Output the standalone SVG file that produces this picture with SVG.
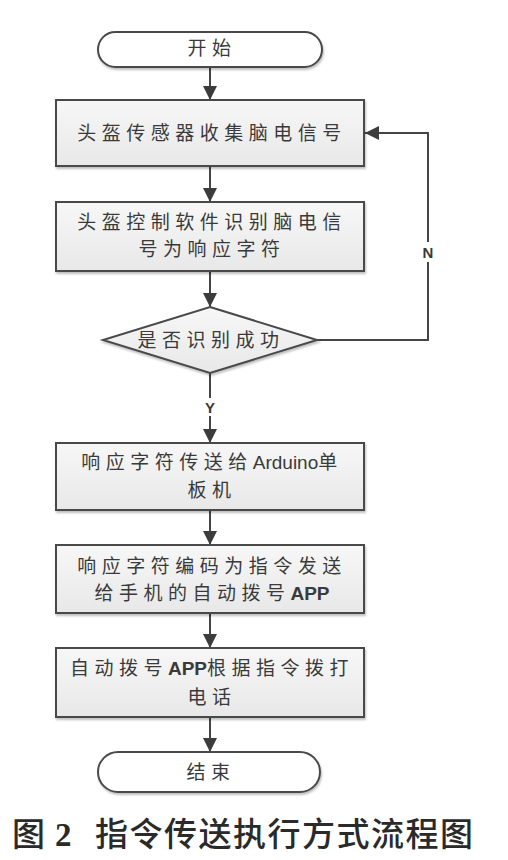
<svg xmlns="http://www.w3.org/2000/svg" width="508" height="860" viewBox="0 0 508 860">
<style>
.box{fill:url(#g);stroke:#4a4a4a;stroke-width:2}
.term{fill:#fff;stroke:#4a4a4a;stroke-width:2}
.t{font-family:"Noto Sans CJK SC","Liberation Sans",sans-serif;font-size:19px;fill:#3a3a3a;text-anchor:middle;letter-spacing:5.5px}
.lat{font-family:"Liberation Sans",Arial,sans-serif;letter-spacing:0}
.b{font-weight:bold}
.lbl{font-family:"Liberation Sans",Arial,sans-serif;font-weight:bold;font-size:15px;fill:#3a3a3a;text-anchor:middle}
.c{stroke:#454545;stroke-width:2;fill:none}
.cap{font-family:"Noto Sans CJK SC",sans-serif;font-size:33px;fill:#2a2a2a;font-weight:500}
</style>
<defs>
<linearGradient id="g" x1="0" y1="0" x2="0" y2="1">
<stop offset="0" stop-color="#f7f7f7"/>
<stop offset="1" stop-color="#e8e8e8"/>
</linearGradient>
<marker id="a" markerUnits="userSpaceOnUse" markerWidth="16" markerHeight="16" refX="14" refY="7" orient="auto">
<path d="M0,0 L14,7 L0,14 Z" fill="#3c3c3c"/>
</marker>
<filter id="s" x="-5%" y="-5%" width="110%" height="120%">
<feDropShadow dx="1" dy="2" stdDeviation="1.2" flood-color="#000" flood-opacity="0.25"/>
</filter>
</defs>
<rect width="508" height="860" fill="#fff"/>
<g id="connectors">
<path class="c" d="M210,67 V100" marker-end="url(#a)"/>
<path class="c" d="M210,166 V202" marker-end="url(#a)"/>
<path class="c" d="M210,271 V307" marker-end="url(#a)"/>
<path class="c" d="M210,373 V443" marker-end="url(#a)"/>
<path class="c" d="M210,510 V545" marker-end="url(#a)"/>
<path class="c" d="M210,613 V648" marker-end="url(#a)"/>
<path class="c" d="M210,717 V752" marker-end="url(#a)"/>
<path class="c" d="M317,340 H428 V133 H365" marker-end="url(#a)"/>
<rect x="421" y="242" width="14" height="20" fill="#fff"/>
<text class="lbl" x="428" y="258">N</text>
<rect x="202" y="398" width="16" height="18" fill="#fff"/>
<text class="lbl" x="210" y="413">Y</text>
</g>
<g id="start">
<rect class="term" x="98" y="32" width="224" height="35" rx="17.5" filter="url(#s)"/>
<text class="t" x="212" y="55">开始</text>
</g>
<g id="n1">
<rect class="box" x="56" y="100" width="308" height="66" filter="url(#s)"/>
<text class="t" x="212" y="140">头盔传感器收集脑电信号</text>
</g>
<g id="n2">
<rect class="box" x="56" y="202" width="308" height="69" filter="url(#s)"/>
<text class="t" x="212" y="229">头盔控制软件识别脑电信</text>
<text class="t" x="212" y="256">号为响应字符</text>
</g>
<g id="d1">
<polygon class="box" points="210,307 317,340 210,373 103,340" filter="url(#s)"/>
<text class="t" x="211" y="347">是否识别成功</text>
</g>
<g id="n3">
<rect class="box" x="56" y="443" width="308" height="67" filter="url(#s)"/>
<text class="t" x="212" y="469">响应字符传送给<tspan class="lat">Arduino</tspan>单</text>
<text class="t" x="212" y="497">板机</text>
</g>
<g id="n4">
<rect class="box" x="56" y="545" width="308" height="68" filter="url(#s)"/>
<text class="t" x="212" y="573">响应字符编码为指令发送</text>
<text class="t" x="212" y="600">给手机的自动拨号<tspan class="lat b">APP</tspan></text>
</g>
<g id="n5">
<rect class="box" x="56" y="648" width="308" height="69" filter="url(#s)"/>
<text class="t" x="212" y="675">自动拨号<tspan class="lat b">APP</tspan>根据指令拨打</text>
<text class="t" x="212" y="704">电话</text>
</g>
<g id="end">
<rect class="term" x="98" y="752" width="222" height="40" rx="20" filter="url(#s)"/>
<text class="t" x="211" y="779">结束</text>
</g>
<g id="caption">
<text class="cap" x="12" y="846">图</text>
<text x="55" y="846" font-family="Liberation Serif,serif" font-weight="bold" font-size="33" fill="#2a2a2a">2</text>
<text class="cap" x="95" y="846" letter-spacing="1.5">指令传送执行方式流程图</text>
</g>
</svg>
